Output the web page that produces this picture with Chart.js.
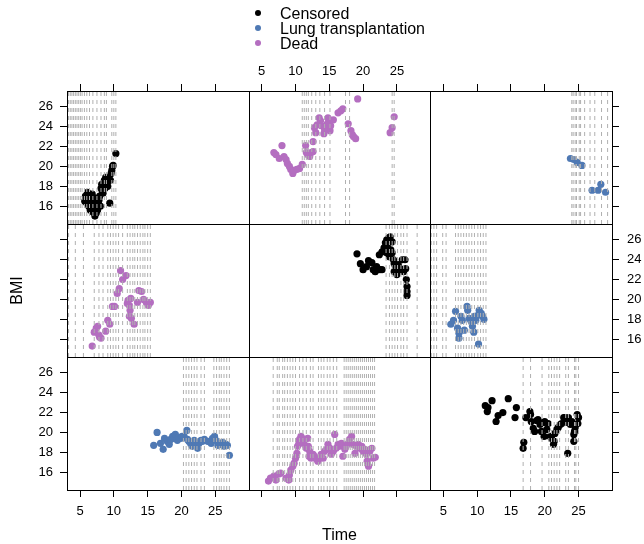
<!DOCTYPE html>
<html>
<head>
<meta charset="utf-8">
<script src="https://cdn.jsdelivr.net/npm/chart.js@4.4.0/dist/chart.umd.min.js"></script>
<style>
  body { margin: 0; background: #fff; }
  #wrap { position: relative; width: 644px; height: 544px; }
  #myChart { position: absolute; left: 0; top: 0; }
  #legend { position: absolute; left: 250px; top: 6px; font: 16px "Liberation Sans", Arial, sans-serif; line-height: 15px; }
  .item { position: relative; padding-left: 30px; white-space: nowrap; }
  .dot { position: absolute; left: 5px; top: 4px; width: 6px; height: 6px; border-radius: 50%; }
</style>
</head>
<body>
<div id="wrap">
  <canvas id="myChart" width="644" height="544"></canvas>
  <div id="legend"></div>
</div>
<script>
document.addEventListener("DOMContentLoaded", function () {
  "use strict";
  // Groups and colours
  const statusNames = ["Censored", "Lung transplantation", "Dead"];
  const statusColors = ["#000000", "#4f79b4", "#b46ec0"];
  // group of each panel, row by row from top-left
  const panelStatus = [0, 2, 1, 2, 0, 1, 1, 2, 0];
  const timeRange = [3.07, 29.95];
  const bmiRange = [14.2, 27.6];

  // Panel 1 (top-left)
  const p1Time = [5.7, 5.8, 6.0, 6.1, 6.2, 6.3, 6.4, 6.5, 6.6, 6.7, 6.8, 6.9, 7.0, 7.1, 7.2, 7.3, 7.4, 7.5, 7.6, 7.7, 7.8, 7.9, 8.0, 8.1, 8.2, 8.3, 8.4, 8.5, 8.6, 8.7, 8.8, 9.0, 9.1, 9.3, 9.4, 9.5, 9.6, 9.7, 9.8, 9.9, 10.3];
  const p1Bmi = [16.5, 17.0, 16.3, 17.4, 16.6, 16.0, 16.8, 15.6, 16.5, 16.0, 17.2, 15.4, 16.2, 16.8, 15.0, 16.0, 15.3, 16.7, 15.6, 16.3, 16.6, 17.0, 16.0, 17.8, 18.2, 17.5, 17.3, 18.0, 18.6, 17.8, 18.9, 18.4, 18.0, 18.8, 16.3, 18.6, 19.3, 19.6, 20.0, 20.1, 21.3];
  const p1Visits = [3.3, 3.55, 3.8, 4.05, 4.3, 4.55, 4.8, 5.05, 5.3, 5.65, 6.0, 6.4, 6.9, 7.5, 8.1, 8.6, 8.9, 9.7, 10.0, 10.3];

  // Panel 2 (top-middle)
  const p2Time = [6.8, 7.1, 8.0, 7.6, 8.3, 8.6, 8.8, 9.1, 9.3, 9.6, 9.8, 10.2, 10.6, 11.0, 11.5, 11.8, 12.1, 12.3, 12.6, 12.6, 11.6, 12.8, 13.0, 13.2, 13.5, 13.7, 13.8, 14.2, 14.3, 14.6, 14.8, 15.1, 15.2, 14.8, 15.6, 16.3, 16.7, 17.0, 17.8, 18.2, 18.4, 18.6, 18.9, 19.2, 24.0, 24.3, 24.6];
  const p2Bmi = [21.4, 21.2, 22.1, 20.8, 21.0, 20.7, 20.3, 20.0, 19.7, 19.3, 19.6, 19.7, 19.8, 20.2, 22.1, 21.2, 21.0, 21.4, 21.5, 22.5, 21.4, 23.9, 23.4, 24.2, 24.9, 24.6, 24.1, 23.3, 23.7, 24.2, 24.4, 23.6, 24.1, 24.9, 24.7, 25.4, 25.6, 25.8, 24.3, 23.6, 23.2, 23.0, 22.8, 26.8, 23.4, 23.9, 25.0];
  const p2Visits = [11.0, 11.3, 11.6, 11.9, 12.4, 13.0, 13.6, 14.3, 15.1, 17.4, 18.0, 24.3, 24.6];

  // Panel 3 (top-right)
  const p3Time = [23.8, 24.3, 24.8, 25.5, 27.0, 27.9, 28.3, 29.0];
  const p3Bmi = [20.8, 20.7, 20.4, 20.1, 17.6, 17.6, 18.2, 17.4];
  const p3Visits = [24.0, 24.2, 24.5, 24.7, 25.1, 25.3, 25.9, 26.7, 27.4, 28.4, 29.3];

  // Panel 4 (middle-left)
  const p4Time = [6.8, 7.1, 7.4, 7.6, 7.9, 8.1, 7.8, 8.8, 9.1, 9.4, 9.8, 10.1, 10.5, 10.8, 11.0, 11.3, 11.8, 12.0, 12.1, 12.3, 12.5, 12.4, 12.3, 12.6, 13.0, 13.5, 13.7, 14.1, 14.4, 14.8, 15.1, 15.4];
  const p4Bmi = [15.3, 16.7, 17.1, 17.3, 16.2, 16.1, 16.4, 16.8, 17.9, 17.5, 19.3, 19.3, 20.6, 21.1, 22.9, 22.0, 22.4, 19.6, 19.9, 19.4, 20.1, 18.9, 18.3, 18.1, 17.5, 19.7, 20.9, 20.8, 20.0, 19.7, 19.4, 19.7];
  const p4Visits = [3.3, 4.3, 5.5, 7.1, 7.8, 8.4, 9.1, 9.5, 9.9, 10.3, 10.7, 11.3, 12.0, 12.4, 12.8, 13.1, 13.5, 13.9, 14.3, 14.6, 15.0, 15.4];

  // Panel 5 (centre)
  const p5Time = [19.1, 19.6, 20.0, 20.8, 20.5, 21.3, 21.5, 21.8, 22.0, 22.5, 22.8, 22.4, 22.8, 23.1, 23.3, 23.5, 23.8, 24.0, 24.3, 23.5, 23.9, 24.3, 24.5, 24.8, 24.6, 25.0, 25.3, 25.5, 25.8, 26.0, 26.2, 26.3, 26.4, 26.5, 26.5, 26.5, 23.6, 24.1, 24.6, 25.2];
  const p5Bmi = [24.6, 23.6, 23.0, 23.9, 23.3, 23.7, 23.0, 22.8, 23.3, 23.0, 23.0, 24.5, 24.8, 25.2, 25.7, 26.0, 26.2, 26.3, 25.8, 24.7, 24.3, 24.7, 24.0, 23.3, 22.8, 22.5, 23.0, 23.1, 24.0, 22.8, 24.0, 23.1, 22.0, 21.3, 20.8, 20.4, 25.3, 25.0, 23.6, 23.5];
  const p5Visits = [23.4, 23.9, 24.3, 24.7, 25.1, 25.6, 26.0, 26.5, 28.0];

  // Panel 6 (middle-right)
  const p6Time = [6.1, 6.5, 6.8, 7.1, 7.3, 7.3, 7.6, 7.8, 8.1, 8.5, 8.6, 8.8, 9.1, 9.3, 9.5, 9.6, 9.8, 10.1, 10.3, 10.6, 10.8, 11.0, 10.2, 9.3];
  const p6Bmi = [17.5, 17.9, 18.8, 17.1, 16.6, 16.1, 18.3, 17.9, 16.9, 19.3, 18.9, 18.1, 17.8, 17.3, 16.7, 18.3, 17.9, 18.4, 18.9, 18.6, 18.3, 18.0, 15.5, 17.9];
  const p6Visits = [3.2, 3.6, 4.0, 4.9, 5.4, 6.8, 7.2, 7.6, 8.0, 8.4, 8.8, 9.2, 9.6, 10.1, 10.5, 10.9, 11.3];

  // Panel 7 (bottom-left)
  const p7Time = [15.9, 16.4, 16.9, 17.3, 17.5, 17.9, 18.2, 18.4, 18.7, 18.9, 19.1, 19.4, 19.6, 19.9, 20.1, 20.4, 20.8, 20.9, 21.1, 21.4, 21.6, 21.9, 22.1, 22.4, 22.6, 22.9, 23.1, 23.4, 23.9, 24.4, 24.6, 24.9, 25.1, 25.4, 25.6, 25.8, 26.1, 26.3, 26.6, 26.8, 27.1];
  const p7Bmi = [18.7, 20.0, 18.9, 18.3, 19.4, 19.1, 18.8, 19.3, 19.6, 19.4, 19.8, 19.2, 19.5, 19.4, 19.6, 19.6, 20.2, 19.3, 19.1, 18.8, 18.6, 19.2, 18.8, 18.4, 18.9, 19.2, 19.1, 19.3, 19.1, 18.9, 19.4, 19.6, 19.2, 18.7, 18.9, 18.8, 19.0, 18.6, 18.8, 18.7, 17.7];
  const p7Visits = [20.3, 20.7, 21.1, 21.5, 21.9, 22.3, 22.9, 23.4, 24.8, 25.2, 25.6, 25.9, 26.3, 26.7, 27.1];

  // Panel 8 (bottom-middle)
  const p8Time = [6.0, 6.3, 6.8, 7.1, 7.5, 7.8, 8.6, 9.0, 9.1, 9.3, 9.6, 9.8, 10.0, 10.2, 10.3, 10.6, 10.8, 11.1, 11.3, 11.6, 11.8, 12.1, 12.3, 12.6, 12.8, 13.1, 13.3, 13.6, 13.8, 14.1, 14.3, 14.6, 14.8, 15.1, 15.3, 15.6, 15.8, 16.0, 16.3, 16.5, 16.8, 17.0, 17.3, 17.5, 17.8, 18.0, 18.3, 18.5, 18.8, 19.0, 19.3, 19.5, 19.8, 20.0, 20.3, 20.5, 20.6, 20.8, 21.0, 21.3, 21.5, 21.8, 10.5, 11.0, 11.9, 12.0];
  const p8Bmi = [15.1, 15.4, 15.6, 15.2, 15.8, 15.9, 15.4, 15.2, 15.7, 16.2, 16.6, 16.9, 17.4, 17.9, 18.6, 19.3, 19.6, 19.1, 18.8, 18.4, 19.4, 18.1, 17.4, 17.8, 17.6, 17.3, 17.1, 17.4, 17.8, 17.4, 18.1, 18.3, 18.8, 18.4, 17.8, 18.1, 19.8, 18.4, 18.8, 18.6, 18.9, 17.6, 18.3, 18.6, 18.9, 19.3, 19.6, 18.8, 17.9, 18.6, 18.8, 18.4, 18.6, 18.1, 18.3, 17.8, 17.1, 16.6, 18.1, 18.4, 17.4, 17.5, 18.9, 19.4, 18.6, 17.6];
  const p8Visits = [6.7, 7.3, 7.6, 8.1, 8.4, 8.8, 9.2, 9.6, 10.0, 10.6, 11.1, 11.6, 12.2, 12.6, 13.4, 13.8, 14.2, 14.7, 15.1, 15.6, 16.1, 17.2, 17.5, 17.8, 18.1, 18.4, 18.7, 19.0, 19.3, 19.6, 19.9, 20.2, 20.5, 20.8, 21.1, 21.4, 21.7];

  // Panel 9 (bottom-right)
  const p9Time = [11.2, 11.6, 11.5, 12.2, 12.8, 13.1, 13.8, 14.6, 15.6, 15.8, 16.9, 16.8, 17.2, 17.8, 17.9, 18.0, 18.3, 18.5, 18.8, 19.0, 19.3, 19.5, 19.8, 19.9, 20.0, 20.3, 20.5, 20.8, 21.0, 21.3, 21.4, 21.5, 21.8, 22.0, 22.3, 22.5, 22.8, 23.0, 23.3, 23.4, 23.5, 23.8, 24.0, 24.3, 24.3, 24.4, 24.5, 24.8, 24.9, 25.0];
  const p9Bmi = [22.7, 22.5, 22.1, 23.2, 21.1, 21.7, 22.0, 23.4, 21.5, 22.5, 19.0, 18.4, 21.5, 22.1, 21.8, 21.1, 20.4, 20.1, 21.2, 21.3, 20.8, 20.1, 21.0, 19.6, 21.1, 20.3, 20.9, 19.6, 19.4, 18.8, 19.1, 19.9, 20.3, 20.5, 20.8, 20.9, 21.5, 21.5, 21.0, 17.9, 21.5, 20.8, 21.1, 19.8, 19.1, 20.1, 20.5, 21.8, 20.9, 21.5];
  const p9Visits = [16.8, 17.9, 19.6, 20.6, 21.0, 21.4, 21.8, 22.2, 23.1, 23.5, 24.4, 24.6, 25.0];

  const panels = [
    [p1Time, p1Bmi, p1Visits], [p2Time, p2Bmi, p2Visits], [p3Time, p3Bmi, p3Visits],
    [p4Time, p4Bmi, p4Visits], [p5Time, p5Bmi, p5Visits], [p6Time, p6Bmi, p6Visits],
    [p7Time, p7Bmi, p7Visits], [p8Time, p8Bmi, p8Visits], [p9Time, p9Bmi, p9Visits]
  ];

  const fontFamily = '"Liberation Sans", Arial, sans-serif';
  const tickFont = { family: fontFamily, size: 13 };
  const titleFont = { family: fontFamily, size: 16, lineHeight: 1 };

  // Build datasets: visit lines + points for each panel
  const datasets = [];
  panels.forEach(function (p, i) {
    const row = Math.floor(i / 3);
    const col = i % 3;
    const lineData = [];
    p[2].forEach(function (t) {
      lineData.push({ x: t, y: bmiRange[0] }, { x: t, y: bmiRange[1] }, { x: t, y: null });
    });
    datasets.push({
      type: "line",
      data: lineData,
      xAxisID: "xb" + col,
      yAxisID: "yl" + row,
      borderColor: "#b0b0b0",
      borderWidth: 1,
      borderDash: [4, 4],
      pointRadius: 0,
      spanGaps: false,
      tension: 0,
      order: 0,
    });
    datasets.push({
      type: "scatter",
      data: p[0].map(function (t, k) { return { x: t, y: p[1][k] }; }),
      xAxisID: "xb" + col,
      yAxisID: "yl" + row,
      backgroundColor: statusColors[panelStatus[i]],
      borderWidth: 0,
      pointRadius: 3.6,
      order: 1,
    });
  });

  // Axis helpers
  function xAxis(pos, col, labels) {
    return {
      type: "linear",
      position: pos,
      stack: pos,
      min: timeRange[0],
      max: timeRange[1],
      grid: { drawOnChartArea: false, drawTicks: true, tickLength: 7, color: "#000" },
      border: { display: false },
      ticks: {
        display: labels, stepSize: 5, includeBounds: false, maxRotation: 0, autoSkip: false,
        padding: pos === "top" ? 5 : 7, color: "#000", font: tickFont,
      },
      title: {
        display: pos === "bottom" && col === 1, text: "Time", color: "#000", font: titleFont,
        padding: { top: 0, bottom: 0 },
      },
      afterFit: function (s) { s.height = pos === "top" ? 91 : 54; },
    };
  }
  function yAxis(pos, row, labels) {
    return {
      type: "linear",
      position: pos,
      stack: pos,
      min: bmiRange[0],
      max: bmiRange[1],
      grid: { drawOnChartArea: false, drawTicks: true, tickLength: 7, color: "#000" },
      border: { display: false },
      ticks: {
        display: labels, stepSize: 2, includeBounds: false, autoSkip: false,
        padding: pos === "left" ? 7 : 8, color: "#000", font: tickFont,
      },
      title: {
        display: pos === "left" && row === 1, text: "BMI", color: "#000", font: titleFont,
        padding: { top: 10, bottom: 0 },
      },
      afterFit: function (s) { s.width = pos === "left" ? 67 : 32; },
    };
  }

  // Left and top stacks are laid out last-first, so add them in reverse
  const scales = {};
  for (let k = 0; k < 3; k++) {
    scales["xb" + k] = xAxis("bottom", k, k !== 1);
    scales["yr" + k] = yAxis("right", k, k === 1);
  }
  for (let k = 2; k >= 0; k--) {
    scales["xt" + k] = xAxis("top", k, k === 1);
    scales["yl" + k] = yAxis("left", k, k !== 1);
  }

  // Draw the frame of every panel
  const panelFrames = {
    id: "panelFrames",
    afterDatasetsDraw: function (chart) {
      const c = chart.ctx;
      c.save();
      c.strokeStyle = "#000";
      c.lineWidth = 1;
      for (let r = 0; r < 3; r++) {
        for (let k = 0; k < 3; k++) {
          const xs = chart.scales["xb" + k];
          const ys = chart.scales["yl" + r];
          const l = Math.round(xs.left) + 0.5;
          const t = Math.round(ys.top) + 0.5;
          c.strokeRect(l, t, Math.round(xs.right) - Math.round(xs.left), Math.round(ys.bottom) - Math.round(ys.top));
        }
      }
      c.restore();
    },
  };

  new Chart(document.getElementById("myChart"), {
    type: "scatter",
    data: { datasets: datasets },
    options: {
      responsive: false,
      animation: false,
      events: [],
      layout: { padding: 0 },
      plugins: { legend: { display: false }, tooltip: { enabled: false } },
      scales: scales,
    },
    plugins: [panelFrames],
  });

  // Legend
  const legend = document.getElementById("legend");
  statusNames.forEach(function (name, i) {
    const item = document.createElement("div");
    item.className = "item";
    const dot = document.createElement("span");
    dot.className = "dot";
    dot.style.background = statusColors[i];
    item.appendChild(dot);
    item.appendChild(document.createTextNode(name));
    legend.appendChild(item);
  });
});
</script>
</body>
</html>
